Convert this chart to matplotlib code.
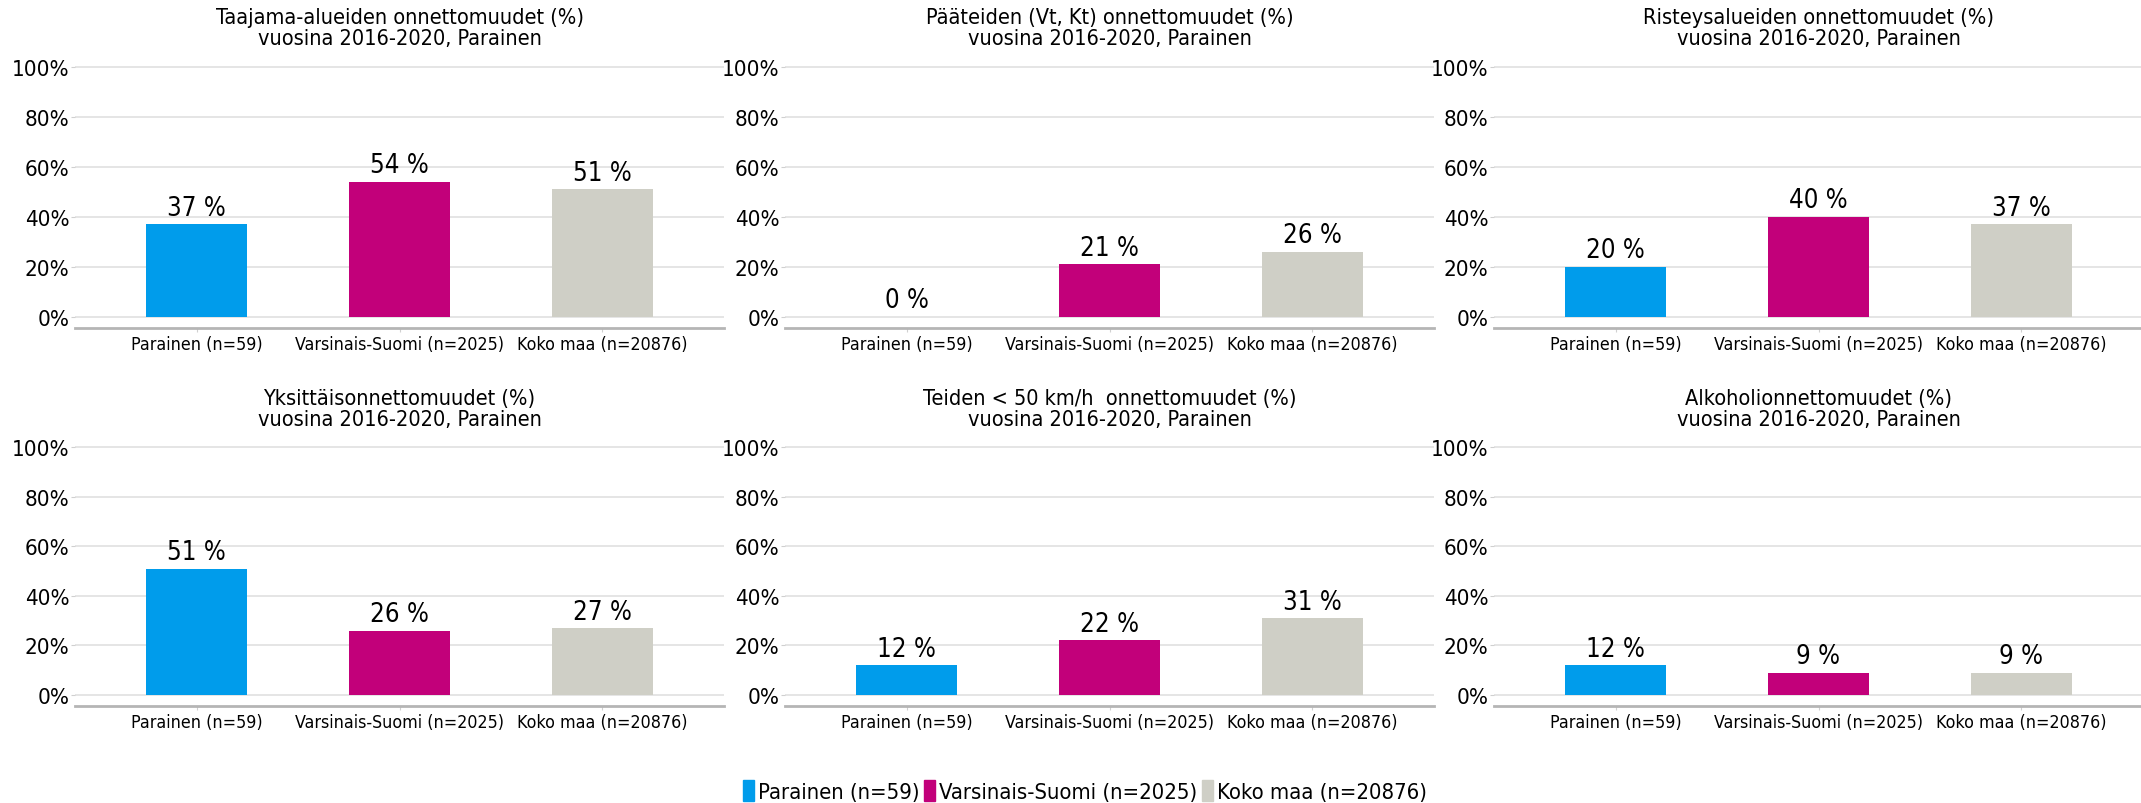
import numpy as np
import matplotlib
matplotlib.use('Agg')
import matplotlib.pyplot as plt
from matplotlib.patches import Patch

plt.rcParams['font.family'] = ['DejaVu Sans']
plt.rcParams['font.stretch'] = 'condensed'

groups = ['Parainen (n=59)', 'Varsinais-Suomi (n=2025)', 'Koko maa (n=20876)']
colors = ['#009ceb', '#c2007a', '#cfcfc6']

titles = [
    'Taajama-alueiden onnettomuudet (%)\nvuosina 2016-2020, Parainen',
    'Pääteiden (Vt, Kt) onnettomuudet (%)\nvuosina 2016-2020, Parainen',
    'Risteysalueiden onnettomuudet (%)\nvuosina 2016-2020, Parainen',
    'Yksittäisonnettomuudet (%)\nvuosina 2016-2020, Parainen',
    'Teiden < 50 km/h  onnettomuudet (%)\nvuosina 2016-2020, Parainen',
    'Alkoholionnettomuudet (%)\nvuosina 2016-2020, Parainen',
]
taajama = [37, 54, 51]
paatiet = [0, 21, 26]
risteys = [20, 40, 37]
yksittais = [51, 26, 27]
alle50 = [12, 22, 31]
alkoholi = [12, 9, 9]
values = [taajama, paatiet, risteys, yksittais, alle50, alkoholi]

W, H = 2141, 804
fig = plt.figure(figsize=(W / 100, H / 100), dpi=100)

col_left = [75, 785, 1494]
col_w = 649
row_box = [(55, 329), (436, 707)]  # top, bottom in px

x = np.arange(len(groups))
for i, (title, vals) in enumerate(zip(titles, values)):
    r, c = divmod(i, 3)
    top, bot = row_box[r]
    ax = fig.add_axes([col_left[c] / W, 1 - bot / H, col_w / W, (bot - top) / H])
    ax.bar(x, vals, width=0.5, color=colors, zorder=3)
    for xi, v in zip(x, vals):
        ax.text(xi, v + 1.3, f'{v} %', ha='center', va='bottom', fontsize=18.5, zorder=4)
    ax.set_xlim(-0.6, 2.6)
    ax.set_ylim(-4.5, 105)
    ax.set_yticks(np.arange(0, 101, 20))
    ax.set_yticklabels([f'{t}%' for t in range(0, 101, 20)], fontsize=16)
    ax.set_xticks(x)
    ax.set_xticklabels(groups, fontsize=12.8)
    ax.grid(axis='y', color='#e3e3e3', linewidth=1.3, zorder=0)
    for s in ['top', 'right', 'left']:
        ax.spines[s].set_visible(False)
    ax.spines['bottom'].set_color('#b5b5b5')
    ax.spines['bottom'].set_linewidth(2)
    ax.tick_params(axis='y', length=3, color='#d0d0d0', pad=1)
    ax.tick_params(axis='x', length=3, color='#d0d0d0', pad=2)
    ax.set_title(title, fontsize=15.6, linespacing=1.05, pad=7)

handles = [Patch(color=col, label=g) for col, g in zip(colors, groups)]
fig.legend(handles=handles, loc='center', bbox_to_anchor=(1085 / W, 1 - 792 / H), ncol=3,
           frameon=False, fontsize=15.8, handlelength=0.5, handleheight=1.1,
           handletextpad=0.2, columnspacing=0.2, borderpad=0)

fig.savefig('out.png', dpi=100, facecolor='white')
